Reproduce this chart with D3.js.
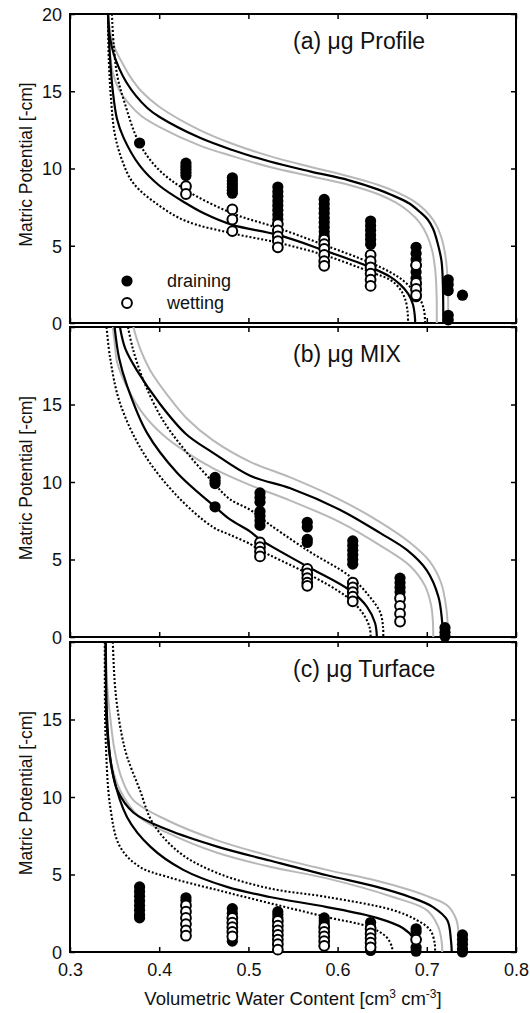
<!DOCTYPE html>
<html>
<head>
<meta charset="utf-8">
<script src="https://cdn.jsdelivr.net/npm/d3@7"></script>
<style>
  html, body { margin: 0; padding: 0; background: #fff; }
  svg { display: block; font-family: "Liberation Sans", Arial, Helvetica, sans-serif; }
  .tick line { stroke: #000; stroke-width: 1.5; }
  .tick text { fill: #111; font-size: 18px; }
  .domain { display: none; }
</style>
</head>
<body>
<svg id="chart" width="530" height="1013"></svg>
<script>
// ---- axis ticks -------------------------------------------------------
const X_TICKS = [0.3, 0.4, 0.5, 0.6, 0.7, 0.8];
const Y_TICKS = [0, 5, 10, 15, 20];
const Y_LABELS_TOP = [0, 5, 10, 15, 20];
const Y_LABELS_LOWER = [0, 5, 10, 15];

// ---- (a) Profile: fitted retention curves [theta, psi] -----------------
const profileDrainFit = [[0.3426,20],[0.3445,18.6],[0.349,17.4],[0.355,16.5],[0.363,15.6],[0.374,14.7],[0.387,13.9],[0.400,13.35],[0.445,12.0],[0.482,11.2],[0.524,10.45],[0.570,9.8],[0.612,9.25],[0.645,8.65],[0.660,8.3],[0.680,7.75],[0.692,7.2],[0.701,6.7],[0.707,6.1],[0.712,5.2],[0.7165,4.0],[0.718,2.5],[0.7185,0]];
const profileDrainHi = [[0.3426,20],[0.346,18.6],[0.351,17.7],[0.358,16.9],[0.368,15.9],[0.380,15.0],[0.400,14.0],[0.445,12.5],[0.482,11.6],[0.524,10.8],[0.570,10.1],[0.612,9.5],[0.645,8.95],[0.665,8.5],[0.685,7.9],[0.698,7.3],[0.708,6.6],[0.716,5.6],[0.721,4.3],[0.7235,2.6],[0.724,0]];
const profileDrainLo = [[0.3426,20],[0.344,18.0],[0.348,16.2],[0.355,15.1],[0.366,14.2],[0.380,13.4],[0.400,12.7],[0.445,11.5],[0.482,10.8],[0.524,10.1],[0.570,9.5],[0.612,8.95],[0.645,8.35],[0.665,7.8],[0.680,7.2],[0.692,6.5],[0.700,5.7],[0.706,4.7],[0.7095,3.4],[0.711,1.8],[0.7112,0]];
const profileWetFit = [[0.3426,20],[0.3445,17.5],[0.348,15.0],[0.3527,13.2],[0.360,12.0],[0.378,10.2],[0.400,8.9],[0.430,7.75],[0.450,7.1],[0.482,6.35],[0.533,5.7],[0.585,4.7],[0.637,3.6],[0.6587,3.0],[0.670,2.5],[0.679,1.9],[0.6845,1.2],[0.6865,0.5],[0.687,0]];
const profileWetHi = [[0.347,20],[0.349,18],[0.353,16],[0.361,14.3],[0.378,11.6],[0.400,9.9],[0.430,8.6],[0.482,7.1],[0.533,6.15],[0.585,5.05],[0.637,3.9],[0.6587,3.3],[0.670,2.9],[0.682,2.3],[0.692,1.6],[0.697,0.8],[0.698,0]];
const profileWetLo = [[0.3426,20],[0.3435,17],[0.346,14.5],[0.350,12.3],[0.358,10.6],[0.371,9.05],[0.400,7.6],[0.430,6.6],[0.482,5.8],[0.533,5.2],[0.585,4.4],[0.637,3.3],[0.6587,2.8],[0.670,2.2],[0.676,1.5],[0.6785,0.7],[0.679,0]];
// measured potentials per sampled water content
const profileDraining = [[0.378,[11.65]],[0.430,[10.35,10.15,9.95,9.75,9.55]],[0.482,[9.4,9.2,9.0,8.8,8.6,8.4]],[0.533,[8.8,8.5,8.2,7.9,7.6,7.3,7.0,6.7]],[0.585,[8.0,7.7,7.4,7.1,6.8,6.5,6.2,5.9,5.6]],[0.637,[6.6,6.3,6.0,5.7,5.4,5.1]],[0.688,[4.9,4.5,4.1,3.7,3.3,2.9,2.5,2.1,1.7]],[0.724,[2.8,2.5,2.1,0.5,0.2]],[0.740,[1.8]]];
const profileWetting = [[0.430,[8.85,8.35]],[0.482,[7.35,6.7,5.95]],[0.533,[6.4,6.0,5.6,5.3,4.9]],[0.585,[5.4,5.1,4.8,4.4,4.0,3.7]],[0.637,[4.4,4.0,3.6,3.2,2.8,2.4]],[0.688,[3.75,2.6,2.2,1.8]]];

// ---- (b) MIX ------------------------------------------------------------
const mixDrainFit = [[0.356,20],[0.362,18.6],[0.375,17.2],[0.400,15.1],[0.430,13.1],[0.460,11.9],[0.502,10.4],[0.547,9.6],[0.603,8.2],[0.648,6.7],[0.678,5.6],[0.700,4.3],[0.713,2.6],[0.717,1.1],[0.718,0]];
const mixDrainHi = [[0.371,20],[0.378,18.7],[0.390,17.2],[0.412,15.4],[0.431,14.1],[0.460,12.7],[0.502,11.3],[0.547,10.3],[0.603,8.85],[0.648,7.4],[0.681,6.1],[0.703,4.9],[0.716,3.5],[0.722,1.8],[0.724,0]];
const mixDrainLo = [[0.348,20],[0.350,19],[0.353,17.7],[0.365,16.0],[0.382,14.4],[0.405,13.0],[0.431,11.9],[0.460,10.9],[0.502,9.8],[0.547,8.8],[0.603,7.4],[0.648,5.9],[0.681,4.6],[0.698,3.3],[0.705,2.0],[0.707,0.8],[0.7072,0]];
const mixWetFit = [[0.350,20],[0.355,18],[0.364,16.2],[0.386,13.2],[0.420,10.6],[0.4626,8.4],[0.479,7.6],[0.502,6.8],[0.513,6.3],[0.566,4.55],[0.614,3.0],[0.633,1.95],[0.642,0.9],[0.644,0]];
const mixWetHi = [[0.365,20],[0.370,18.7],[0.382,16.6],[0.404,14.0],[0.431,11.9],[0.460,10.0],[0.479,8.9],[0.502,8.2],[0.513,7.7],[0.566,5.6],[0.614,3.9],[0.636,2.6],[0.648,1.55],[0.651,0.6],[0.6512,0]];
const mixWetLo = [[0.341,20],[0.345,18],[0.356,15.1],[0.382,11.9],[0.420,9.1],[0.460,7.1],[0.479,6.6],[0.502,6.0],[0.513,5.6],[0.566,4.1],[0.610,2.6],[0.628,1.55],[0.636,0.6],[0.637,0]];
const mixDraining = [[0.4626,[10.3,10.1,9.9,8.4]],[0.513,[9.3,9.0,8.7,8.1,7.8,7.5,7.2]],[0.566,[7.4,7.1,6.3,6.1]],[0.617,[6.2,5.9,5.6,5.3,5.0,4.7]],[0.670,[3.8,3.5,3.2,2.9]],[0.7204,[0.6,0.3,0.05]]];
const mixWetting = [[0.513,[6.1,5.8,5.5,5.2]],[0.566,[4.4,4.1,3.8,3.5,3.3]],[0.617,[3.5,3.2,2.9,2.6,2.3]],[0.670,[2.5,2.0,1.5,1.0]]];

// ---- (c) Turface ---------------------------------------------------------
const turfaceDrainFit = [[0.340,20],[0.341,16],[0.343,13.7],[0.347,11.8],[0.353,10.45],[0.371,9.0],[0.409,7.9],[0.465,6.8],[0.524,5.9],[0.588,4.95],[0.644,4.2],[0.681,3.55],[0.707,2.9],[0.723,2.05],[0.727,0.8],[0.728,0]];
const turfaceDrainHi = [[0.340,20],[0.342,17],[0.345,15.2],[0.350,13.0],[0.358,11.2],[0.371,9.8],[0.409,8.5],[0.465,7.2],[0.524,6.2],[0.588,5.3],[0.644,4.6],[0.681,4.0],[0.705,3.5],[0.723,3.0],[0.733,2.1],[0.736,1.0],[0.737,0]];
const turfaceDrainLo = [[0.340,20],[0.341,16],[0.343,13.6],[0.345,12.5],[0.356,10.45],[0.378,8.7],[0.409,7.7],[0.465,6.4],[0.524,5.5],[0.588,4.75],[0.662,3.55],[0.700,2.7],[0.713,1.6],[0.717,0.5],[0.7172,0]];
const turfaceWetFit = [[0.340,20],[0.3403,17],[0.341,14.8],[0.348,11.5],[0.364,8.7],[0.390,6.8],[0.427,5.3],[0.476,4.2],[0.524,3.55],[0.588,2.9],[0.644,2.2],[0.673,1.55],[0.685,0.9],[0.689,0.3],[0.6892,0]];
const turfaceWetHi = [[0.348,20],[0.350,17.5],[0.353,15.8],[0.358,14.0],[0.364,12.6],[0.378,10.5],[0.393,8.3],[0.423,6.4],[0.465,5.1],[0.524,4.1],[0.588,3.55],[0.662,2.7],[0.689,2.05],[0.704,1.4],[0.709,0.5],[0.7092,0]];
const turfaceWetLo = [[0.339,20],[0.3392,16],[0.340,13.7],[0.345,9.4],[0.356,6.8],[0.378,5.5],[0.409,4.85],[0.465,4.0],[0.524,3.15],[0.588,2.25],[0.636,1.6],[0.655,0.95],[0.661,0.3],[0.6612,0]];
const turfaceDraining = [[0.378,[4.2,3.9,3.6,3.3,3.0,2.7,2.4,2.2]],[0.430,[3.5,3.3]],[0.482,[2.8,2.5,0.7]],[0.533,[2.6,2.4,2.2]],[0.585,[2.2,2.0,1.8]],[0.637,[1.9,1.6,0.1]],[0.688,[1.5,1.3,0.3,0.05]],[0.740,[1.1,0.8,0.5,0.2,0.0]]];
const turfaceWetting = [[0.430,[3.0,2.6,2.2,1.8,1.4,1.05]],[0.482,[2.2,1.9,1.6,1.3,1.0]],[0.533,[2.0,1.7,1.4,1.1,0.8,0.5,0.15]],[0.585,[1.6,1.3,1.0,0.7,0.4]],[0.637,[1.5,1.2,0.9,0.6,0.3]],[0.688,[0.8]]];

// ---- layout ----------------------------------------------------------------
const svg = d3.select("#chart");
const LEFT = 70, RIGHT = 516;
const x = d3.scaleLinear().domain([0.3, 0.8]).range([LEFT, RIGHT]);

const panels = [
  { key: "a", title: "(a) \u03bcg Profile", top: 14, bottom: 323, labels: Y_LABELS_TOP,
    drainFit: profileDrainFit, drainHi: profileDrainHi, drainLo: profileDrainLo,
    wetFit: profileWetFit, wetHi: profileWetHi, wetLo: profileWetLo,
    draining: profileDraining, wetting: profileWetting, legend: true },
  { key: "b", title: "(b) \u03bcg MIX", top: 327, bottom: 637, labels: Y_LABELS_LOWER,
    drainFit: mixDrainFit, drainHi: mixDrainHi, drainLo: mixDrainLo,
    wetFit: mixWetFit, wetHi: mixWetHi, wetLo: mixWetLo,
    draining: mixDraining, wetting: mixWetting },
  { key: "c", title: "(c) \u03bcg Turface", top: 642, bottom: 952, labels: Y_LABELS_LOWER,
    drainFit: turfaceDrainFit, drainHi: turfaceDrainHi, drainLo: turfaceDrainLo,
    wetFit: turfaceWetFit, wetHi: turfaceWetHi, wetLo: turfaceWetLo,
    draining: turfaceDraining, wetting: turfaceWetting, xLabels: true }
];

const R = 5.6;

panels.forEach(p => {
  const y = d3.scaleLinear().domain([0, 20]).range([p.bottom, p.top]);
  const g = svg.append("g").attr("class", "panel-" + p.key);

  // clip region for the curves
  svg.append("clipPath").attr("id", "clip-" + p.key)
    .append("rect").attr("x", LEFT).attr("y", p.top)
    .attr("width", RIGHT - LEFT).attr("height", p.bottom - p.top);

  // axes (ticks point inward on all four sides)
  g.append("g").attr("transform", `translate(${LEFT},0)`)
    .call(d3.axisLeft(y).tickValues(Y_TICKS).tickSizeInner(-5).tickSizeOuter(0).tickPadding(8)
      .tickFormat(v => p.labels.includes(v) ? d3.format("d")(v) : ""))
    .selectAll("text").attr("dy", "0.36em");
  g.append("g").attr("transform", `translate(${RIGHT},0)`)
    .call(d3.axisRight(y).tickValues(Y_TICKS).tickSizeInner(-5).tickSizeOuter(0).tickFormat(() => ""));
  g.append("g").attr("transform", `translate(0,${p.top})`)
    .call(d3.axisTop(x).tickValues(X_TICKS).tickSizeInner(-5).tickSizeOuter(0).tickFormat(() => ""));
  const xb = d3.axisBottom(x).tickValues(X_TICKS).tickSizeInner(-5).tickSizeOuter(0).tickPadding(11)
    .tickFormat(p.xLabels ? d3.format(".1f") : () => "");
  g.append("g").attr("transform", `translate(0,${p.bottom})`).call(xb);

  // frame
  g.append("rect").attr("x", LEFT).attr("y", p.top)
    .attr("width", RIGHT - LEFT).attr("height", p.bottom - p.top)
    .attr("fill", "none").attr("stroke", "#000").attr("stroke-width", 2);

  // curves
  const line = d3.line().x(d => x(d[0])).y(d => y(d[1])).curve(d3.curveCatmullRom.alpha(0.5));
  const cg = g.append("g").attr("clip-path", `url(#clip-${p.key})`).attr("fill", "none");
  [p.drainHi, p.drainLo].forEach(c =>
    cg.append("path").attr("d", line(c)).attr("stroke", "#b8b8b8").attr("stroke-width", 2));
  [p.drainFit, p.wetFit].forEach(c =>
    cg.append("path").attr("d", line(c)).attr("stroke", "#000").attr("stroke-width", 2.2));
  [p.wetHi, p.wetLo].forEach(c =>
    cg.append("path").attr("d", line(c)).attr("stroke", "#000").attr("stroke-width", 2.1)
      .attr("stroke-dasharray", "2,2"));

  // measurements
  const flat = cols => cols.flatMap(([t, vals]) => vals.map(v => [t, v]));
  g.append("g").selectAll("circle").data(flat(p.draining)).join("circle")
    .attr("cx", d => x(d[0])).attr("cy", d => y(d[1])).attr("r", R)
    .attr("fill", "#000");
  g.append("g").selectAll("circle").data(flat(p.wetting)).join("circle")
    .attr("cx", d => x(d[0])).attr("cy", d => y(d[1])).attr("r", R - 0.7)
    .attr("fill", "#fff").attr("stroke", "#000").attr("stroke-width", 2);

  // panel title
  g.append("text").attr("x", 293).attr("y", p.top + 35)
    .attr("font-size", 23).attr("fill", "#111").text(p.title);

  // y-axis title
  const cy = (p.top + p.bottom) / 2 - 4;
  g.append("text").attr("transform", `translate(32,${cy}) rotate(-90)`)
    .attr("text-anchor", "middle").attr("font-size", 17.5).attr("fill", "#111")
    .text("Matric Potential [-cm]");

  if (p.legend) {
    const lg = g.append("g");
    lg.append("circle").attr("cx", 127).attr("cy", 281).attr("r", R).attr("fill", "#000");
    lg.append("circle").attr("cx", 127).attr("cy", 303).attr("r", R - 0.7)
      .attr("fill", "#fff").attr("stroke", "#000").attr("stroke-width", 2);
    lg.append("text").attr("x", 167).attr("y", 287).attr("font-size", 18).attr("fill", "#111").text("draining");
    lg.append("text").attr("x", 167).attr("y", 309).attr("font-size", 18).attr("fill", "#111").text("wetting");
  }
});

// x-axis title with superscript units
const xt = svg.append("text").attr("x", (LEFT + RIGHT) / 2).attr("y", 1005)
  .attr("text-anchor", "middle").attr("font-size", 18.5).attr("fill", "#111");
xt.append("tspan").text("Volumetric Water Content [cm");
xt.append("tspan").attr("dy", -7).attr("font-size", 12).text("3");
xt.append("tspan").attr("dy", 7).text(" cm");
xt.append("tspan").attr("dy", -7).attr("font-size", 12).text("-3");
xt.append("tspan").attr("dy", 7).text("]");
</script>
</body>
</html>
